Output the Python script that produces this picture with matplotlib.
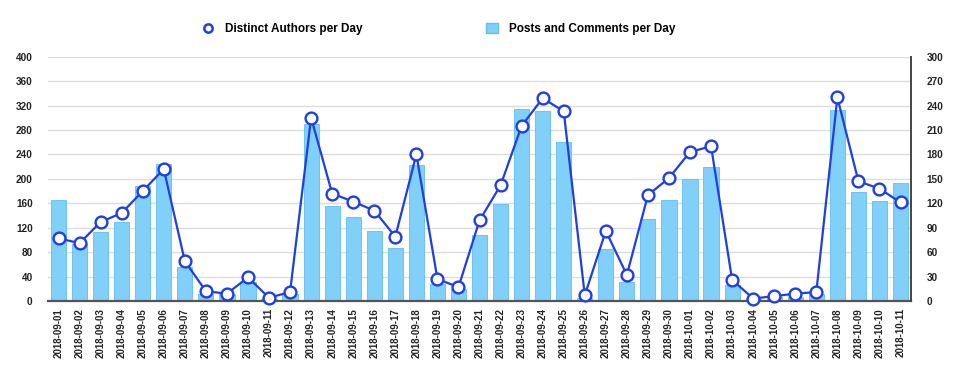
import matplotlib
matplotlib.use("Agg")
import matplotlib.pyplot as plt
from matplotlib.lines import Line2D
from matplotlib.patches import Patch

plt.rcParams['font.family'] = ['Liberation Sans', 'DejaVu Sans']

# daily data
dates = ["2018-09-01", "2018-09-02", "2018-09-03", "2018-09-04", "2018-09-05",
         "2018-09-06", "2018-09-07", "2018-09-08", "2018-09-09", "2018-09-10",
         "2018-09-11", "2018-09-12", "2018-09-13", "2018-09-14", "2018-09-15",
         "2018-09-16", "2018-09-17", "2018-09-18", "2018-09-19", "2018-09-20",
         "2018-09-21", "2018-09-22", "2018-09-23", "2018-09-24", "2018-09-25",
         "2018-09-26", "2018-09-27", "2018-09-28", "2018-09-29", "2018-09-30",
         "2018-10-01", "2018-10-02", "2018-10-03", "2018-10-04", "2018-10-05",
         "2018-10-06", "2018-10-07", "2018-10-08", "2018-10-09", "2018-10-10",
         "2018-10-11"]
posts = [165, 93, 113, 130, 189, 224, 55, 11, 11, 31,
         3, 11, 289, 156, 137, 115, 86, 223, 28, 20,
         108, 158, 314, 311, 260, 5, 85, 31, 134, 165,
         200, 220, 27, 3, 7, 7, 12, 312, 178, 163,
         194]
authors = [77, 71, 97, 108, 135, 162, 49, 12, 9, 29,
           4, 11, 225, 132, 122, 111, 79, 180, 27, 17,
           99, 142, 215, 249, 233, 7, 86, 32, 130, 151,
           183, 190, 26, 3, 6, 9, 11, 250, 147, 138,
           121]

bar_color = '#80d0fa'
line_color = '#1f3fe0'

fig = plt.figure(figsize=(9.6, 3.77), dpi=100)
ax = fig.add_axes([0.05, 0.2016, 0.899, 0.648])
x = list(range(len(dates)))

ax.bar(x, posts, width=0.72, color=bar_color, edgecolor='#62bdf0', linewidth=0.6, zorder=2)
ax.set_xlim(-0.5, len(dates) - 0.5)
ax.set_ylim(0, 400)
ax.set_yticks(range(0, 401, 40))
ax.grid(axis='y', color='#dcdcdc', linewidth=1, zorder=0)
ax.set_axisbelow(True)
ax.set_xticks(x)
ax.set_xticklabels(dates, rotation=90, fontsize=7, fontweight='bold', color='#222222')
ax.tick_params(axis='both', length=0)
ax.tick_params(axis='y', pad=11, labelsize=7.2, labelcolor='#222222')
ax.tick_params(axis='x', pad=5)
for lab in ax.get_yticklabels():
    lab.set_fontweight('bold')
for s in ['left', 'top', 'right']:
    ax.spines[s].set_visible(False)
ax.spines['bottom'].set_color('#555555')
ax.spines['bottom'].set_linewidth(1.6)

ax2 = ax.twinx()
ax2.plot(x, authors, color=line_color, linewidth=1.6, marker='o', markersize=8.5,
         markerfacecolor='white', markeredgecolor=line_color, markeredgewidth=1.7,
         clip_on=False, zorder=3)
ax2.set_ylim(0, 300)
ax2.set_yticks(range(0, 301, 30))
ax2.tick_params(axis='y', length=0, pad=11, labelsize=7.2, labelcolor='#222222')
for lab in ax2.get_yticklabels():
    lab.set_fontweight('bold')
for s in ['left', 'top', 'bottom']:
    ax2.spines[s].set_visible(False)
ax2.spines['right'].set_color('#444444')
ax2.spines['right'].set_linewidth(1.4)

handles = [
    Line2D([], [], linestyle='none', marker='o', markersize=6,
           markerfacecolor='white', markeredgecolor=line_color, markeredgewidth=1.8),
    Patch(facecolor=bar_color, edgecolor='#62bdf0'),
]
fig.legend(handles, ["Distinct Authors per Day", "Posts and Comments per Day"],
           loc='center', bbox_to_anchor=(0.457, 0.923), ncol=2, frameon=False,
           prop={'size': 8.5, 'weight': 'bold'}, handlelength=1.0, handleheight=1.0,
           handletextpad=0.9, columnspacing=10.5)

fig.savefig("out.png", dpi=100)
